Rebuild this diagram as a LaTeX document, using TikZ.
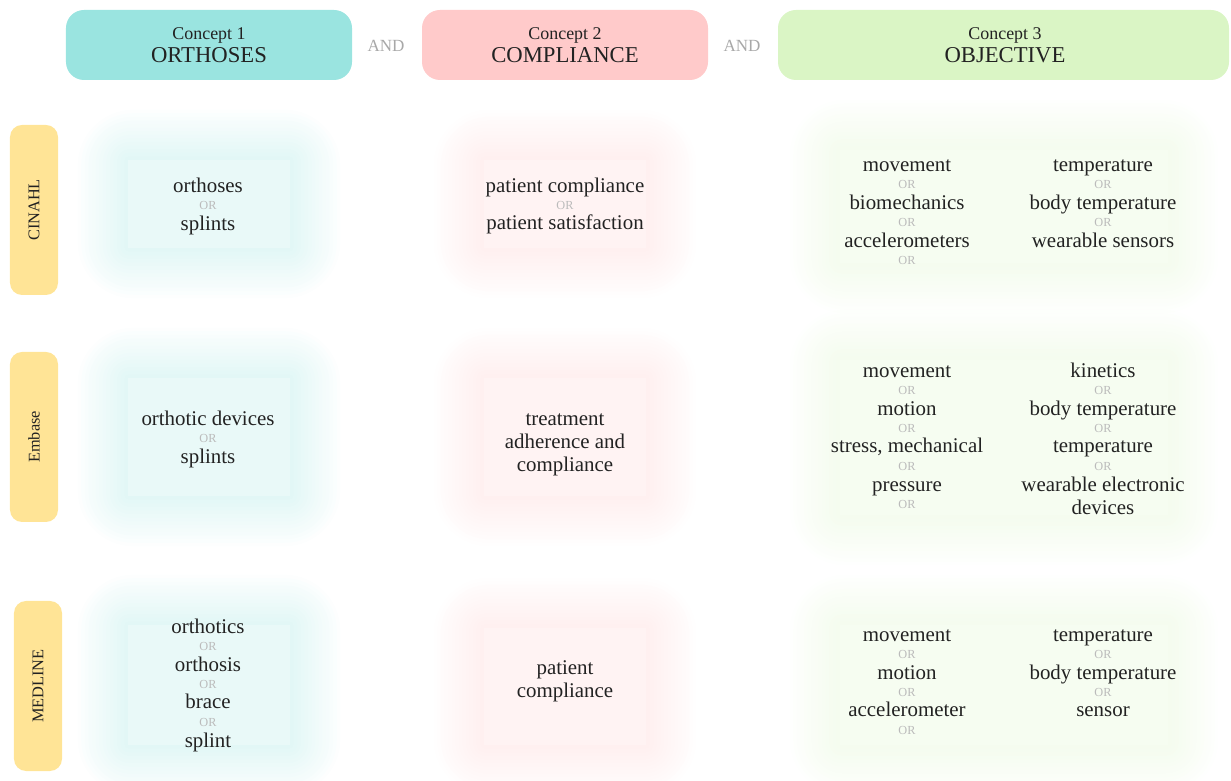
\documentclass[tikz,border=0pt]{standalone}
\usepackage{fontspec}
\setmainfont{Liberation Serif}
\usepackage{xcolor}
\definecolor{tealhead}{HTML}{9AE4E0}
\definecolor{pinkhead}{HTML}{FFCACA}
\definecolor{greenhead}{HTML}{DAF5C5}
\definecolor{dbyellow}{HTML}{FFE496}
\definecolor{textdark}{HTML}{222222}
\definecolor{andgrey}{HTML}{A8A8A8}
\definecolor{orgrey}{HTML}{BBBBBB}

\tikzset{
  term/.style={anchor=mid, yshift=-0.6mm, inner sep=1pt, text=textdark, font=\fontsize{11.9}{14}\selectfont},
  orword/.style={anchor=mid, yshift=-0.5mm, inner sep=1pt, text=orgrey, font=\fontsize{7}{8}\selectfont},
  andword/.style={anchor=mid, yshift=-0.4mm, text=andgrey, font=\fontsize{9.7}{11}\selectfont},
  headbox/.style={rounded corners=3.6mm, minimum height=14mm, inner sep=0pt},
  headtext/.style={anchor=mid, yshift=-0.5mm, text=textdark},
  dbbox/.style={fill=dbyellow, rounded corners=2.4mm, minimum width=34mm, minimum height=9.6mm,
                rotate=90, text=textdark, font=\fontsize{9.3}{11}\selectfont},
}

% soft halo around a search cell, then its pale inner panel
\newcommand{\glowcell}[6]{%
  \foreach \k in {1,...,14}
    \fill[#5, opacity=0.024, rounded corners=\k*0.8mm] (#1-\k*3.6,#2-\k*3.6) rectangle (#3+\k*3.6,#4+\k*3.6);
  \fill[#5!#6] (#1,#2) rectangle (#3,#4);
}
% stacked keywords: list of y/text
\newcommand{\termlist}[3]{%
  \foreach \y/\txt [count=\i] in {#3}
    \node[term] (#1-\i) at (#2,\y) {\txt};
}
\newcommand{\orlist}[3]{%
  \foreach \y [count=\i] in {#3}
    \node[orword] (#1-or\i) at (#2,\y) {OR};
}

\begin{document}
\begin{tikzpicture}[x=0.2mm, y=-0.2mm]
  \useasboundingbox (0,0) rectangle (1231,781);

  % concept headers
  \node[headbox, fill=tealhead, minimum width=57.2mm] (head1) at (209,45) {};
  \node[headbox, fill=pinkhead, minimum width=57.2mm] (head2) at (565,45) {};
  \node[headbox, fill=greenhead, minimum width=90.2mm] (head3) at (1003.5,45) {};
  \foreach \n/\x/\lbl in {1/209/ORTHOSES,2/565/COMPLIANCE,3/1005/OBJECTIVE}{
    \node[headtext, font=\fontsize{10.2}{12}\selectfont] (concept\n) at (\x,33) {Concept \n};
    \node[headtext, font=\fontsize{12.9}{15}\selectfont] (title\n) at (\x,56) {\lbl};
  }
  \node[andword] (and1) at (386,45) {AND};
  \node[andword] (and2) at (742,45) {AND};

  % databases
  \node[dbbox] (cinahl) at (34,210) {CINAHL};
  \node[dbbox] (embase) at (34,437) {Embase};
  \node[dbbox] (medline) at (38,686) {MEDLINE};

  % cell backgrounds
  \glowcell{128}{160}{290}{248}{tealhead}{22}
  \glowcell{128}{378}{290}{496}{tealhead}{22}
  \glowcell{128}{625}{290}{745}{tealhead}{22}
  \glowcell{484}{160}{646}{248}{pinkhead}{22}
  \glowcell{484}{378}{646}{496}{pinkhead}{22}
  \glowcell{484}{628}{646}{745}{pinkhead}{22}
  \glowcell{840}{150}{1168}{263}{greenhead}{24}
  \glowcell{840}{360}{1168}{515}{greenhead}{24}
  \glowcell{840}{625}{1168}{745}{greenhead}{24}

  % CINAHL row
  \termlist{ci1}{208}{185/orthoses,223/splints}
  \orlist{ci1}{208}{203}
  \termlist{ci2}{565}{185/patient compliance,222/patient satisfaction}
  \orlist{ci2}{565}{203}
  \termlist{ci3a}{907}{164/movement,202/biomechanics,240/accelerometers}
  \orlist{ci3a}{907}{182,220,258}
  \termlist{ci3b}{1103}{164/temperature,202/body temperature,240/wearable sensors}
  \orlist{ci3b}{1103}{182,220}

  % Embase row
  \termlist{em1}{208}{418/orthotic devices,456/splints}
  \orlist{em1}{208}{436}
  \termlist{em2}{565}{418/treatment,441/adherence and,464/compliance}
  \termlist{em3a}{907}{370/movement,408/motion,445/{stress, mechanical},484/pressure}
  \orlist{em3a}{907}{388,426,464,502}
  \termlist{em3b}{1103}{370/kinetics,408/body temperature,445/temperature,484/wearable electronic,507/devices}
  \orlist{em3b}{1103}{388,426,464}

  % MEDLINE row
  \termlist{me1}{208}{626/orthotics,664/orthosis,701/brace,740/splint}
  \orlist{me1}{208}{644,682,720}
  \termlist{me2}{565}{667/patient,690/compliance}
  \termlist{me3a}{907}{634/movement,672/motion,709/accelerometer}
  \orlist{me3a}{907}{652,690,728}
  \termlist{me3b}{1103}{634/temperature,672/body temperature,709/sensor}
  \orlist{me3b}{1103}{652,690}
\end{tikzpicture}
\end{document}
